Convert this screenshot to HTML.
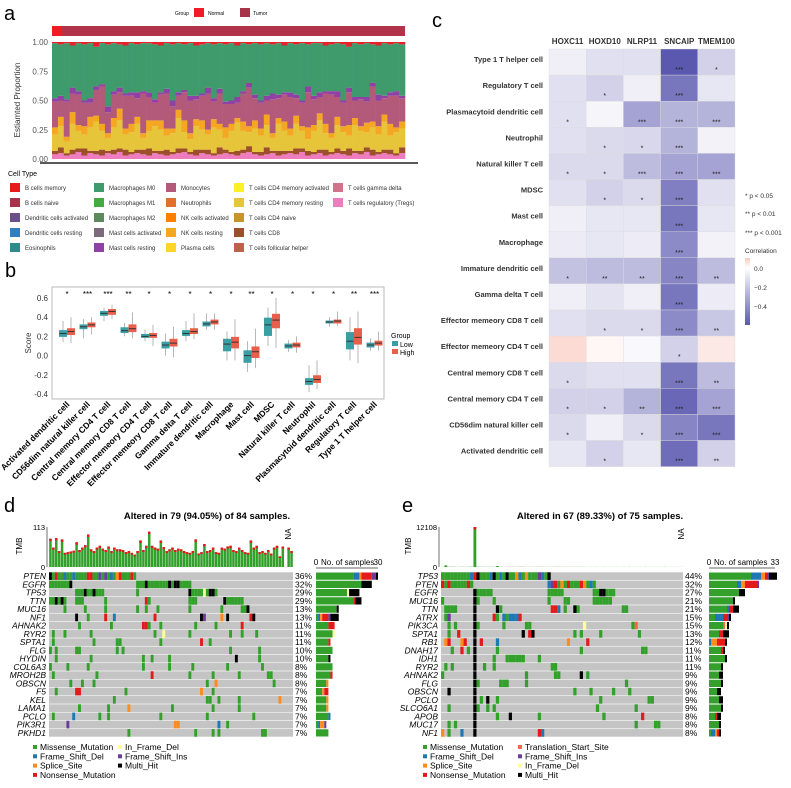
<!DOCTYPE html>
<html><head><meta charset="utf-8"><style>
html,body{margin:0;padding:0;background:#fff;}
svg{display:block;font-family:"Liberation Sans",Arial,sans-serif;}
</style></head><body>
<svg id="fig" width="791" height="788" viewBox="0 0 791 788" xmlns="http://www.w3.org/2000/svg">
<g id="ga"></g>
<g id="gb"></g>
<g id="gc"></g>
<g id="gd"></g>
<g id="ge"></g>
</svg>
<script>
// ---------- Panel a data ----------
const aTreg=[.04,.05,.03,.04,.06,.03,.05,.04,.03,.05,.04,.06,.03,.04,.05,.04,.03,.05,.04,.03,.04,.05,.06,.04,.03,.05,.04,.03,.04,.05,.04,.03,.05,.06,.04,.03,.04,.05,.03,.04,.05,.04,.06,.03,.04,.05,.03,.04,.05,.04,.03,.05,.04,.06,.03,.04,.05,.04,.03,.05];
const aCD8=[.03,.05,.02,.04,.03,.06,.02,.03,.05,.02,.04,.03,.05,.02,.03,.04,.06,.02,.03,.05,.02,.04,.03,.02,.05,.03,.04,.02,.06,.03,.02,.04,.03,.05,.02,.03,.06,.02,.04,.03,.02,.05,.03,.04,.02,.03,.05,.02,.04,.03,.06,.02,.03,.04,.05,.02,.03,.04,.02,.05];
const aCD4=[.14,.18,.10,.22,.15,.12,.20,.25,.16,.11,.19,.24,.13,.17,.22,.10,.15,.21,.18,.12,.16,.26,.14,.11,.20,.17,.13,.22,.15,.10,.18,.24,.16,.12,.20,.14,.19,.11,.23,.17,.13,.21,.15,.10,.18,.25,.14,.12,.20,.16,.11,.22,.17,.13,.19,.15,.24,.12,.18,.16];
const aNK=[.06,.08,.04,.10,.05,.07,.09,.05,.06,.04,.08,.10,.05,.07,.06,.04,.09,.05,.08,.06,.04,.07,.10,.05,.06,.08,.04,.07,.05,.09,.06,.04,.08,.05,.07,.06,.09,.04,.05,.08,.06,.07,.04,.10,.05,.06,.08,.04,.07,.05,.09,.06,.04,.08,.05,.07,.06,.10,.04,.06];
const aMono=[.22,.14,.30,.16,.26,.20,.12,.22,.32,.18,.20,.14,.28,.24,.16,.34,.20,.15,.22,.30,.19,.12,.24,.28,.17,.21,.31,.15,.26,.20,.17,.13,.24,.33,.19,.22,.12,.29,.17,.23,.27,.15,.20,.30,.22,.14,.26,.33,.17,.20,.28,.15,.23,.18,.30,.22,.14,.24,.27,.20];
const aMast=[.03,.04,.02,.05,.03,.02,.04,.03,.02,.05,.03,.04,.02,.03,.05,.02,.04,.03,.02,.04,.05,.03,.02,.04,.03,.02,.05,.03,.04,.02,.03,.05,.02,.04,.03,.02,.04,.05,.03,.02,.04,.03,.02,.05,.03,.04,.02,.03,.05,.02,.04,.03,.02,.04,.03,.05,.02,.03,.04,.02];
const aBmem=[.01,.02,.01,.03,.01,.02,.01,.04,.01,.02,.01,.02,.03,.01,.02,.01,.01,.02,.03,.01,.02,.01,.02,.01,.03,.02,.01,.02,.01,.02,.01,.03,.01,.02,.01,.02,.01,.02,.01,.03,.01,.02,.01,.02,.01,.01,.03,.02,.01,.02,.04,.01,.02,.01,.02,.03,.01,.02,.01,.02];
const aLayerColors=["#f07cc0","#9c4f2a","#e6c53a","#f5a623","#b35a7a","#9140a5","#3f9a6c","#e8202a"];
const aLegend=[["B cells memory","#e41a1c"],["B cells naive","#a8324a"],["Dendritic cells activated","#6a4f8a"],["Dendritic cells resting","#2f7fc1"],["Eosinophils","#2b8c8c"],
["Macrophages M0","#3f9a6c"],["Macrophages M1","#44aa44"],["Macrophages M2","#5d8a5d"],["Mast cells activated","#7d6a7d"],["Mast cells resting","#9140a5"],
["Monocytes","#b35a7a"],["Neutrophils","#e0702c"],["NK cells activated","#ff7f00"],["NK cells resting","#f5a623"],["Plasma cells","#ffd52a"],
["T cells CD4 memory activated","#ffef2a"],["T cells CD4 memory resting","#e6c53a"],["T cells CD4 naive","#c8942a"],["T cells CD8","#9c4f2a"],["T cells follicular helper","#c0604a"],
["T cells gamma delta","#d4708a"],["T cells regulatory (Tregs)","#f07cc0"]];

// ---------- Panel b data ----------
const bCats=["Activated dendritic cell","CD56dim natural killer cell","Central memory CD4 T cell","Central memory CD8 T cell","Effector memeory CD4 T cell","Effector memeory CD8 T cell","Gamma delta T cell","Immature dendritic cell","Macrophage","Mast cell","MDSC","Natural killer T cell","Neutrophil","Plasmacytoid dendritic cell","Regulatory T cell","Type 1 T helper cell"];
const bLowMed=[.23,.30,.44,.26,.20,.11,.23,.33,.12,0,.32,.10,-.27,.35,.15,.11];
const bLowQ1=[.20,.28,.42,.24,.19,.08,.21,.31,.05,-.07,.21,.08,-.30,.34,.07,.09];
const bLowQ3=[.26,.32,.46,.29,.22,.14,.26,.35,.17,.05,.39,.12,-.24,.36,.24,.13];
const bLowMin=[.14,.18,.36,.20,.15,0,.15,.27,-.05,-.17,.10,.04,-.38,.30,-.05,.05];
const bLowMax=[.36,.38,.50,.34,.27,.23,.36,.44,.25,.15,.50,.16,-.10,.40,.40,.18];
const bHighMed=[.25,.32,.46,.28,.21,.13,.25,.35,.14,.04,.37,.11,-.25,.36,.19,.13];
const bHighQ1=[.22,.30,.43,.25,.19,.10,.23,.33,.08,-.02,.29,.09,-.28,.34,.12,.11];
const bHighQ3=[.28,.34,.48,.32,.23,.17,.28,.37,.19,.09,.43,.13,-.21,.37,.28,.15];
const bHighMin=[.13,.22,.38,.18,.10,-.02,.17,.27,-.05,-.13,.08,.03,-.35,.31,-.08,.05];
const bHighMax=[.40,.40,.53,.45,.32,.30,.44,.44,.38,.28,.60,.20,-.05,.46,.46,.25];
const bStars=["*","***","***","**","*","*","*","*","*","**","*","*","*","*","**","***"];
const bTicks=[0.6,0.4,0.2,0.0,-0.2,-0.4];

// ---------- Panel c data ----------
const cGenes=["HOXC11","HOXD10","NLRP11","SNCAIP","TMEM100"];
const cRows=["Type 1 T helper cell","Regulatory T cell","Plasmacytoid dendritic cell","Neutrophil","Natural killer T cell","MDSC","Mast cell","Macrophage","Immature dendritic cell","Gamma delta T cell","Effector memeory CD8 T cell","Effector memeory CD4 T cell","Central memory CD8 T cell","Central memory CD4 T cell","CD56dim natural killer cell","Activated dendritic cell"];
const cVals=[[-.05,-.10,-.10,-.55,-.15],[-.10,-.15,-.05,-.45,-.08],[-.10,-.03,-.30,-.25,-.25],[-.10,-.12,-.13,-.25,-.04],[-.12,-.12,-.22,-.30,-.30],[-.10,-.15,-.12,-.42,-.10],[-.05,-.08,-.08,-.45,-.08],[-.06,-.08,-.06,-.38,-.04],[-.20,-.22,-.22,-.40,-.22],[-.05,-.09,-.05,-.45,-.06],[-.10,-.12,-.12,-.38,-.18],[.10,.02,-.02,-.15,.06],[-.12,-.10,-.10,-.45,-.22],[-.15,-.15,-.25,-.50,-.30],[-.12,-.05,-.12,-.40,-.45],[-.08,-.15,-.08,-.48,-.15]];
const cStars=[["","","","***","*"],["","*","","***",""],["*","","***","***","***"],["","*","*","***",""],["*","*","***","***","***"],["","*","*","***",""],["","","","***",""],["","","","***",""],["*","**","**","***","**"],["","","","***",""],["","*","*","***","**"],["","","","*",""],["*","","","***","**"],["*","*","**","***","***"],["*","","*","***","***"],["","*","","***","**"]];
const cBarTicks=[0.0,-0.2,-0.4];

// ---------- Panel d data ----------
const dGenes=["PTEN","EGFR","TP53","TTN","MUC16","NF1","AHNAK2","RYR2","SPTA1","FLG","HYDIN","COL6A3","MROH2B","OBSCN","F5","KEL","LAMA1","PCLO","PIK3R1","PKHD1"];
const dPct=["36%","32%","29%","29%","13%","13%","11%","11%","11%","10%","10%","8%","8%","8%","7%","7%","7%","7%","7%","7%"];
const dMuts=["0-29M 0H 2N 5D 8D 13N 14N 17F 19F 21D 23S 24N 28N","0-7M 7H 30-48M 33H 41H 43-44H","9-18M 12H 15H 30M 48-57M 48H 53I 55H 56H","0-5M 2H 4H 9-11M 19M 33N 34M 48-50M 60-66M 60H","5M 12M 19M 30M 33M 37M 48M 59M 66-67M 68H","9H 13M 19N 22D 36N 52H 53F 59S 61H 69N 70H","10M 21M 32N 33N 34M 38M 50M 57M 66N","1M 5M 14M 36M 39I 48M 62M 66M 71M","1M 15M 23M 24M 38M 52N 55M","0M 2M 9-10M 23M 25M 62M 72M","2M 14M 32M 35M 41M 64H 72M","0M 6M 13M 32M 41M 49M 61M 73M","1M 16M 35N 48M 56M 65M 75-76M","7M 11M 15M 54M 57S 77M","2M 9-10N 26M 52S 56M","22M 54-55M 58M 65M 79S","10M 20M 27S 42M 56M 65M","1M 8D 17M 20M 38M 54M 70M","6F 43-44S 58D 61M","27M 50M 56M 58M 73-74M"];
const dTmb=[80,55,82,45,78,40,42,44,46,70,48,55,62,92,50,45,55,60,52,48,58,45,55,50,50,48,42,45,40,35,45,75,48,60,100,60,55,52,75,56,45,50,55,48,52,50,45,42,40,45,78,38,42,65,45,48,55,42,40,55,52,58,60,48,45,55,48,42,40,75,55,60,42,45,40,48,38,55,60,30,58,0,55,45];
const dTmbMax=113, dSampleCount=84, dSideMax=30;

// ---------- Panel e data ----------
const eGenes=["TP53","PTEN","EGFR","MUC16","TTN","ATRX","PIK3CA","SPTA1","RB1","DNAH17","IDH1","RYR2","AHNAK2","FLG","OBSCN","PCLO","SLCO6A1","APOB","MUC17","NF1"];
const ePct=["44%","32%","27%","21%","21%","15%","15%","13%","12%","11%","11%","11%","9%","9%","9%","9%","9%","8%","8%","8%"];
const eMuts=["0-33M 9D 10N 11H 15D 16H 18D 20H 23S 24D 26S 30F 31D 33H","0-9M 0N 2N 8N 33-47M 33D 34F 35N 37S 39N 43N 44S 46D","10H 11-15M 33-37M 47-53M 49-50H","0M 10H 11M 16M 33M 38-39M 47-52M","1-4M 10H 17H 18M 34-35N 36D 38M 41H 42M 56-57M","1M 2F 10H 16N 17M 19-23D 20M 24N","2M 4M 10H 11M 19M 26M 27M 44I 59M 60T","2M 5N 10H 25H 27N 28H 41M 43M 49M 61M","1S 2N 6S 7N 10H 12N 17D 39S 45N","3M 6N 8M 10H 17M 43M 62-63M","10H 16M 20-25M 30M","1M 3M 10H 13M 16M 34-35M","0M 10H 26M 35-36M 43H 45M","10H 11M 18-20M 26M 57M","2H 10H 41M 46M 53M 58M","10H 12M 14H 17M 49M 64-65M","2M 10H 11M 14M 16M 48M 60M","10H 17M 21H 30M 50M 62N","2M 4M 10H 60M 66-67M","0S 2M 6D 10H 30N 31D"];
const eTmb=[40,500,60,80,50,30,70,40,60,90,12108,80,60,50,40,70,60,300,50,40,60,30,50,40,70,60,40,50,30,40,60,50,40,30,50,40,60,30,40,50,30,40,50,30,40,20,30,40,30,20,40,30,20,30,40,20,30,20,40,30,20,30,20,40,30,20,30,20,30,40,20,30,20,30,20];
const eTmbMax=12108, eSampleCount=75, eSideMax=33;

const mutColors={M:"#33a02c",D:"#1f78b4",S:"#ff8c1a",N:"#e31a1c",I:"#ffff99",F:"#6a3d9a",H:"#000000",T:"#f06a4a"};
const mutOrder=["M","D","S","T","N","I","F","H"];

// ---------- helpers ----------
const NS="http://www.w3.org/2000/svg";
function mk(parent,tag,attrs,txt){const e=document.createElementNS(NS,tag);for(const k in attrs)e.setAttribute(k,attrs[k]);if(txt!==undefined)e.textContent=txt;parent.appendChild(e);return e;}
function parseMuts(s){const m={};s.split(" ").forEach(t=>{const mm=t.match(/^(\d+)(?:-(\d+))?([A-Z])$/);if(!mm)return;const a=+mm[1],b=mm[2]?+mm[2]:a;for(let i=a;i<=b;i++)m[i]=mm[3];});return m;}

// ---------- Panel a ----------
(function(){
const g=document.getElementById("ga");
let t=mk(g,"text",{x:4,y:20,"font-size":20},"a");


t=mk(g,"text",{x:175,y:15,"font-size":5},"Group");


let r=mk(g,"rect",{x:194,y:8,width:10,height:9,fill:"#ee1c25"});


t=mk(g,"text",{x:208,y:15,"font-size":5},"Normal");


r=mk(g,"rect",{x:240,y:8,width:10,height:9,fill:"#a8344a"});


t=mk(g,"text",{x:253,y:15,"font-size":5},"Tumor");


r=mk(g,"rect",{x:52,y:26,width:353,height:10,fill:"#b0334a"});


r=mk(g,"rect",{x:52,y:26,width:10,height:10,fill:"#ee1c25"});


const x0=52,x1=405,y0=159,h=117;
const ys=v=>y0-v*h;
[1,0.75,0.5,0.25,0].forEach(v=>{
 const tt=mk(g,"text",{x:48,y:ys(v)+3,"font-size":8,fill:"#555","text-anchor":"end"},v.toFixed(2));
 
 
});
t=mk(g,"text",{x:20,y:100,"font-size":8,fill:"#333","text-anchor":"middle",transform:"rotate(-90 20 100)"},"Estiamted Proportion");


const n=aTreg.length,bw=(x1-x0)/n;
for(let i=0;i<n;i++){
 const layers=[aTreg[i],aCD8[i],aCD4[i],aNK[i],aMono[i],aMast[i]];
 const sumLow=layers.reduce((a,b)=>a+b,0);
 layers.push(Math.max(0,1-sumLow-aBmem[i]));layers.push(aBmem[i]);
 let acc=0;
 layers.forEach((v,k)=>{
  const rr=mk(g,"rect",{x:x0+i*bw,y:ys(acc+v),width:bw+0.3,height:v*h,fill:aLayerColors[k]});
  
  
  acc+=v;
 });
}
let l=mk(g,"line",{x1:40,x2:418,y1:163,y2:163,stroke:"#222","stroke-width":1.5});


t=mk(g,"text",{x:8,y:176,"font-size":7},"Cell Type");


const colX=[10,94,166,234,333];
aLegend.forEach((e,k)=>{
 const c=Math.floor(k/5),rw=k%5;const yy=183+rw*15;
 const sw=mk(g,"rect",{x:colX[c],y:yy,width:10,height:9,fill:e[1]});
 
 
 const lt=mk(g,"text",{x:colX[c]+15,y:yy+7,"font-size":6,fill:"#333"},e[0]);
 
 
});
})();

// ---------- Panel b ----------
(function(){
const g=document.getElementById("gb");
let t=mk(g,"text",{x:5,y:277,"font-size":20},"b");


const ys=v=>298+(0.6-v)*96;
let fr=mk(g,"rect",{x:52,y:287,width:332,height:112,fill:"none",stroke:"#bbb","stroke-width":1});


bTicks.forEach(v=>{
 const tt=mk(g,"text",{x:48,y:ys(v)+3,"font-size":8,fill:"#333","text-anchor":"end"},v.toFixed(1));
 
 
});
t=mk(g,"text",{x:31,y:343,"font-size":8,fill:"#333","text-anchor":"middle",transform:"rotate(-90 31 343)"},"Score");


const xs=i=>67+i*20.5;
function box(cx,q1,med,q3,mn,mx,col,name){
 const ln=mk(g,"line",{x1:cx,x2:cx,y1:ys(mx),y2:ys(mn),stroke:"#999","stroke-width":0.7});
 
 
 const b=mk(g,"rect",{x:cx-3.5,y:ys(q3),width:7,height:ys(q1)-ys(q3),fill:col,stroke:col});
 
 
 const m=mk(g,"line",{x1:cx-3.5,x2:cx+3.5,y1:ys(med),y2:ys(med),stroke:"#333","stroke-width":1});
 
 
}
bCats.forEach((c,i)=>{
 const cx=xs(i);
 box(cx-4,bLowQ1[i],bLowMed[i],bLowQ3[i],bLowMin[i],bLowMax[i],"#3a9ea5","low");
 box(cx+4,bHighQ1[i],bHighMed[i],bHighQ3[i],bHighMin[i],bHighMax[i],"#e8604c","high");
 const st=mk(g,"text",{x:cx,y:297,"font-size":8,"text-anchor":"middle"},bStars[i]);
 
 
 const lb=mk(g,"text",{x:cx+3,y:405,"font-size":8.5,"font-weight":"bold","text-anchor":"end",transform:`rotate(-45 ${cx+3} 405)`},c);
 
 
});
t=mk(g,"text",{x:391,y:338,"font-size":7},"Group");


[["Low","#3a9ea5"],["High","#e8604c"]].forEach((e,k)=>{
 const s=mk(g,"rect",{x:392,y:341+k*8,width:6,height:5,fill:e[1]});
 
 
 const lt=mk(g,"text",{x:400,y:347+k*8,"font-size":7},e[0]);
 
 
});
})();

// ---------- Panel c ----------
(function(){
const g=document.getElementById("gc");
let t=mk(g,"text",{x:432,y:27,"font-size":20},"c");


const cx0=549,cw=37.2,ry0=49,rh=26.1;
function colr(v){
 if(v>=0){const f=Math.min(1,v/0.15);return `rgb(${255-6*f|0},${255-54*f|0},${255-64*f|0})`;}
 const f=Math.min(1,-v/0.55);return `rgb(${255-165*f|0},${255-167*f|0},${255-80*f|0})`;
}
cGenes.forEach((gn,j)=>{
 const tt=mk(g,"text",{x:cx0+cw*j+cw/2,y:44,"font-size":8,"font-weight":"bold",fill:"#333","text-anchor":"middle"},gn);
 
 
});
cRows.forEach((rn,i)=>{
 const tt=mk(g,"text",{x:543,y:ry0+rh*i+rh/2,"font-size":7.5,"font-weight":"bold",fill:"#333","text-anchor":"end"},rn);
 
 
 cVals[i].forEach((v,j)=>{
  const r=mk(g,"rect",{x:cx0+cw*j,y:ry0+rh*i,width:cw,height:rh,fill:colr(v),stroke:"#ddd","stroke-width":0.4});
  
  
  if(cStars[i][j]){
   const s=mk(g,"text",{x:cx0+cw*j+cw/2,y:ry0+rh*i+rh-3,"font-size":7,"text-anchor":"middle",fill:"#222"},cStars[i][j]);
   
   
  }
 });
});
[["* p < 0.05",198],["** p < 0.01",216],["*** p < 0.001",235],["Correlation",253]].forEach(e=>{
 const tt=mk(g,"text",{x:745,y:e[1],"font-size":6.5,fill:"#333"},e[0]);
 
 
});
const defs=mk(g,"defs",{});
const lg=mk(defs,"linearGradient",{id:"cg",x1:0,y1:0,x2:0,y2:1});
mk(lg,"stop",{offset:"0",["stop-color"]:"#f9c9bf"});
mk(lg,"stop",{offset:"0.15",["stop-color"]:"#ffffff"});
mk(lg,"stop",{offset:"1",["stop-color"]:"#5a58b0"});
const cb=mk(g,"rect",{x:745,y:258,width:5,height:67,fill:"url(#cg)"});


const cbY=v=>268-v*95;
cBarTicks.forEach(v=>{
 const tt=mk(g,"text",{x:754,y:cbY(v)+3,"font-size":6.5,fill:"#333"},v===0?"0.0":"\u2212"+Math.abs(v).toFixed(1));
 
 
});
})();

// ---------- Oncoplot builder ----------
function onco(gid,o){
 const g=document.getElementById(gid);
 let t=mk(g,"text",{x:o.lx,y:o.ly,"font-size":20},o.letter);
 
 
 t=mk(g,"text",{x:o.titleX,y:519,"font-size":9.5,"font-weight":"bold","text-anchor":"middle"},o.title);
 
 
 const gx0=o.gx0,gx1=o.gx1,cw=(gx1-gx0)/o.n,gy0=572,rh=8.25;
 const ty0=527,ty1=567;
 let l=mk(g,"line",{x1:gx0-2,x2:gx0-2,y1:ty0,y2:ty1,stroke:"#333","stroke-width":0.7});
 
 
 t=mk(g,"text",{x:gx0-4,y:ty0+3,"font-size":7.5,"text-anchor":"end"},String(o.tmbMax));
 
 
 t=mk(g,"text",{x:gx0-4,y:ty1+3,"font-size":7.5,"text-anchor":"end"},"0");
 
 
 t=mk(g,"text",{x:o.tmbLabelX,y:546,"font-size":8,"text-anchor":"middle",transform:`rotate(-90 ${o.tmbLabelX} 546)`},"TMB");
 
 
 t=mk(g,"text",{x:o.naX,y:534,"font-size":8,"text-anchor":"middle",transform:`rotate(-90 ${o.naX} 534)`},"NA");
 
 
 o.tmb.forEach((v,i)=>{
  const hh=Math.min(1,v/o.tmbMax)*(ty1-ty0);
  const b=mk(g,"rect",{x:gx0+i*cw+0.2,y:ty1-hh,width:cw-0.4,height:hh,fill:"#33a02c"});
  
  
  if(hh>3){
   const c=mk(g,"rect",{x:gx0+i*cw+0.2,y:ty1-hh,width:cw-0.4,height:Math.min(2.5,hh*0.06+1),fill:"#e31a1c"});
   
   
  }
 });
 const sx0=o.sx0,sx1=o.sx1,sw=(sx1-sx0)/o.sideMax;
 t=mk(g,"text",{x:sx0,y:565,"font-size":8,"text-anchor":"middle"},"0");
 
 
 t=mk(g,"text",{x:sx0+5,y:565,"font-size":8},"No. of samples");
 
 
 t=mk(g,"text",{x:sx1,y:565,"font-size":8,"text-anchor":"middle"},String(o.sideMax));
 
 
 l=mk(g,"line",{x1:sx0,x2:sx1,y1:568,y2:568,stroke:"#333","stroke-width":0.7});
 
 
 o.genes.forEach((gn,i)=>{
  const y=gy0+i*rh;
  const bg=mk(g,"rect",{x:gx0,y:y+0.3,width:gx1-gx0,height:rh-0.6,fill:"#c4c4c4"});
  
  
  const lt=mk(g,"text",{x:gx0-3,y:y+7,"font-size":8.5,"font-style":"italic","text-anchor":"end"},gn);
  
  
  const pt=mk(g,"text",{x:gx1+2,y:y+7,"font-size":8.5},o.pct[i]);
  
  
  const m=parseMuts(o.muts[i]);const cnt={};
  Object.keys(m).forEach(k=>{
   const c=mk(g,"rect",{x:gx0+(+k)*cw,y:y+0.3,width:cw,height:rh-0.6,fill:mutColors[m[k]]});
   
   
   cnt[m[k]]=(cnt[m[k]]||0)+1;
  });
  let acc=0;
  mutOrder.forEach(tp=>{
   if(!cnt[tp])return;
   const s=mk(g,"rect",{x:sx0+acc*sw,y:y+0.5,width:cnt[tp]*sw,height:rh-1,fill:mutColors[tp]});
   
   
   acc+=cnt[tp];
  });
 });
 o.legend.forEach((e,k)=>{
  const c=k<o.col1?0:1,rw=c?k-o.col1:k;const x=c?o.legX2:o.legX1,y=750+rw*9.3;
  const s=mk(g,"rect",{x:x,y:y-5,width:4,height:4,fill:mutColors[e[1]]});
  
  
  const lt=mk(g,"text",{x:x+7,y:y,"font-size":8.5},e[0]);
  
  
 });
}
onco("gd",{letter:"d",lx:4,ly:512,title:"Altered in 79 (94.05%) of 84 samples.",titleX:207,gx0:49,gx1:293,n:dSampleCount,tmb:dTmb,tmbMax:dTmbMax,tmbLabelX:22,naX:291,sx0:316,sx1:378,sideMax:dSideMax,genes:dGenes,pct:dPct,muts:dMuts,col1:4,legX1:33,legX2:118,
 legend:[["Missense_Mutation","M"],["Frame_Shift_Del","D"],["Splice_Site","S"],["Nonsense_Mutation","N"],["In_Frame_Del","I"],["Frame_Shift_Ins","F"],["Multi_Hit","H"]]});
onco("ge",{letter:"e",lx:402,ly:512,title:"Altered in 67 (89.33%) of 75 samples.",titleX:600,gx0:441,gx1:683,n:eSampleCount,tmb:eTmb,tmbMax:eTmbMax,tmbLabelX:411,naX:684,sx0:709,sx1:775,sideMax:eSideMax,genes:eGenes,pct:ePct,muts:eMuts,col1:4,legX1:423,legX2:518,
 legend:[["Missense_Mutation","M"],["Frame_Shift_Del","D"],["Splice_Site","S"],["Nonsense_Mutation","N"],["Translation_Start_Site","T"],["Frame_Shift_Ins","F"],["In_Frame_Del","I"],["Multi_Hit","H"]]});
</script>
</body></html>
